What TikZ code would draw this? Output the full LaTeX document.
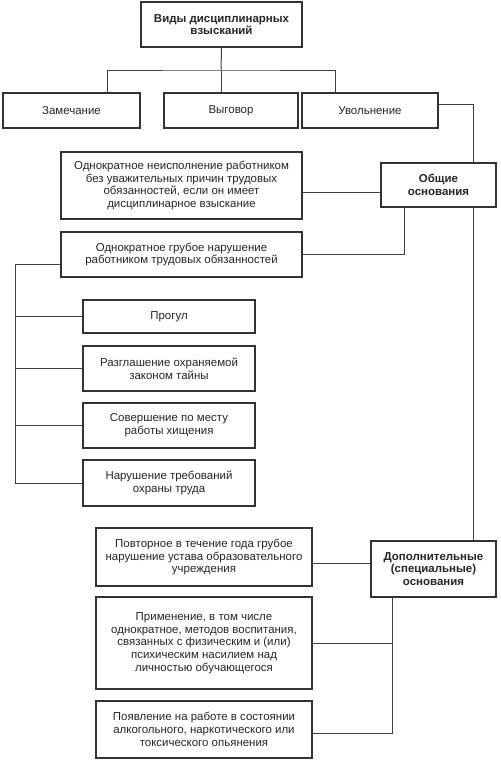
\documentclass[tikz,border=0pt]{standalone}
\usepackage{fontspec}
\setmainfont{Liberation Sans}

\begin{document}
\begin{tikzpicture}[x=0.75pt,y=0.75pt,yscale=-1,xscale=1,
  sz/.style 2 args={minimum width=#1*0.75pt,minimum height=#2*0.75pt},
  box/.style={draw=black!80,line width=0.9pt,fill=white,inner sep=0pt,align=center,text=black!85,font=\fontsize{8.6}{9.5}\selectfont},
  hbox/.style={box,font=\fontsize{8.6}{9.5}\selectfont\bfseries},
  link/.style={draw=black!75,line width=0.75pt}]
\useasboundingbox (0,0) rectangle (500,762);

% Text Node
\node [hbox, sz={161}{45}] (kinds) at (221.5,24.5) {Виды дисциплинарных\\взысканий};
% Text Node
\node [box, sz={137}{35}] (remark) at (71.5,110.5) {Замечание};
% Text Node
\node [box, sz={134}{35}] (reprim) at (231,110.5) {Выговор};
% Text Node
\node [box, sz={136}{35}] (dismiss) at (370,110.5) {Увольнение};
% Text Node
\node [hbox, sz={115}{44}] (common) at (438.5,185) {Общие\\основания};
% Text Node
\node [box, sz={241}{67}] (repeat) at (181.5,185.5) {Однократное неисполнение работником\\без уважительных причин трудовых\\обязанностей, если он имеет\\дисциплинарное взыскание};
% Text Node
\node [box, sz={241}{45}] (gross) at (181.5,254.5) {Однократное грубое нарушение\\работником трудовых обязанностей};
% Text Node
\node [box, sz={172}{33}] (absence) at (169,316.5) {Прогул};
% Text Node
\node [box, sz={172}{45}] (secret) at (169,368.5) {Разглашение охраняемой\\законом тайны};
% Text Node
\node [box, sz={172}{45}] (theft) at (169,425.5) {Совершение по месту\\работы хищения};
% Text Node
\node [box, sz={172}{46}] (safety) at (169,483) {Нарушение требований\\охраны труда};
% Text Node
\node [hbox, sz={125}{56}] (extra) at (433.5,569) {Дополнительные\\(специальные)\\основания};
% Text Node
\node [box, sz={216}{58}] (charter) at (204,557) {Повторное в течение года грубое\\нарушение устава образовательного\\учреждения};
% Text Node
\node [box, sz={216}{92}] (violence) at (204,643) {Применение, в том числе\\однократное, методов воспитания,\\связанных с физическим и (или)\\психическим насилием над\\личностью обучающегося};
% Text Node
\node [box, sz={216}{57}] (drunk) at (204,729.5) {Появление на работе в состоянии\\алкогольного, наркотического или\\токсического опьянения};

%Straight Lines
\coordinate (bus) at (221,71);
\coordinate (trunk) at (473,105);
\coordinate (spine) at (15,265);
\draw [link] (kinds.south) -- (bus);
\draw [link] ([xshift=35.5*0.75pt]remark.north) |- (bus) -| ([xshift=-35*0.75pt]dismiss.north);
\draw [link] (bus) -- (bus |- reprim.north);
%Straight Lines
\draw [link] ([yshift=-5.5*0.75pt]dismiss.east) -| (trunk |- common.north);
\draw [link] (trunk |- common.south) -- (trunk |- extra.north);
%Straight Lines
\draw [link] ([yshift=7.5*0.75pt]repeat.east) -- ([yshift=7.5*0.75pt]repeat.east -| common.west);
\draw [link] (gross.east) -| ([xshift=-34.5*0.75pt]common.south);
%Straight Lines
\draw [link] ([yshift=10.5*0.75pt]gross.west) -| (spine |- safety.west) -- (safety.west);
\foreach \n in {absence,secret,theft}
  \draw [link] (spine |- \n.west) -- (\n.west);
%Straight Lines
\coordinate (drop) at ([xshift=-41.5*0.75pt]extra.south);
\draw [link] ([yshift=6*0.75pt]charter.east) -- ([yshift=6*0.75pt]charter.east -| extra.west);
\draw [link] (drop) |- ([yshift=3.5*0.75pt]drunk.east);
\draw [link] (violence.east) -- (violence.east -| drop);

\end{tikzpicture}
\end{document}
